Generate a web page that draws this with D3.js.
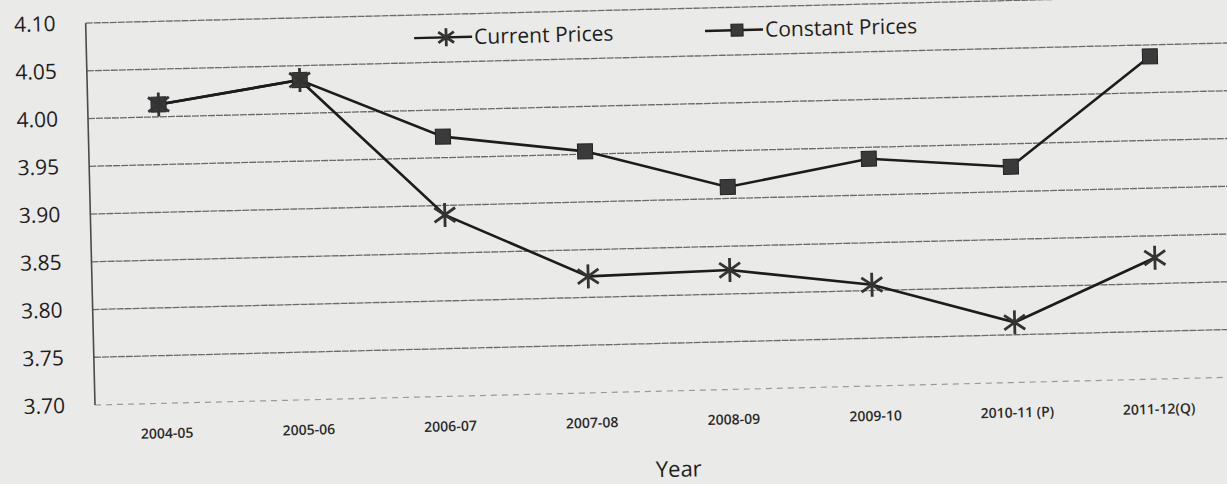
<!DOCTYPE html>
<html>
<head>
<meta charset="utf-8">
<script src="https://cdn.jsdelivr.net/npm/d3@7"></script>
<style>
  body { margin: 0; background: #eaeae8; }
  svg { display: block; }
</style>
</head>
<body>
<svg id="chart" width="1227" height="484"></svg>
<script>
const years = ["2004-05", "2005-06", "2006-07", "2007-08", "2008-09", "2009-10", "2010-11 (P)", "2011-12(Q)"];
const currentPrices = [4.013, 4.035, 3.890, 3.822, 3.825, 3.806, 3.763, 3.827];
const constantPrices = [4.013, 4.035, 3.972, 3.953, 3.912, 3.938, 3.926, 4.038];
const yTicks = [3.70, 3.75, 3.80, 3.85, 3.90, 3.95, 4.00, 4.05, 4.10];

const svg = d3.select("#chart");
// the scanned page sits slightly askew
const g = svg.append("g").attr("transform", "rotate(-1.4, 95, 405)");

const x = d3.scalePoint().domain(years).range([95, 1229]).padding(0.5);
const y = d3.scaleLinear().domain([3.70, 4.10]).range([405, 23]);

// gridlines
g.append("g")
  .selectAll("line")
  .data(yTicks.slice(1))
  .enter()
  .append("line")
  .attr("x1", 95)
  .attr("x2", 1240)
  .attr("y1", d => y(d))
  .attr("y2", d => y(d))
  .style("stroke", "#6a6a6a")
  .style("stroke-width", 1.3)
  .style("stroke-dasharray", "7 1");

// bottom line (faint, dashed)
g.append("line")
  .attr("x1", 95).attr("x2", 1240)
  .attr("y1", y(3.70)).attr("y2", y(3.70))
  .style("stroke", "#9a9a9a")
  .style("stroke-width", 1.2)
  .style("stroke-dasharray", "6 5");

// left axis
g.append("line")
  .attr("x1", 95).attr("x2", 95)
  .attr("y1", y(4.10)).attr("y2", y(3.70))
  .style("stroke", "#4a4a4a")
  .style("stroke-width", 1.6);

const yAxis = g.append("g")
  .attr("transform", "translate(95,0)")
  .call(d3.axisLeft(y).tickValues(yTicks).tickFormat(d3.format(".2f")).tickSize(0).tickPadding(30));
yAxis.select(".domain").remove();
yAxis.selectAll("text")
  .style("font-family", "'Open Sans', sans-serif")
  .style("font-size", "21px")
  .style("fill", "#1e1e1e");

const xAxis = g.append("g")
  .attr("transform", "translate(0,430)")
  .call(d3.axisBottom(x).tickSize(0).tickPadding(0));
xAxis.select(".domain").remove();
xAxis.selectAll("text")
  .style("font-family", "'Open Sans', sans-serif")
  .style("font-size", "14px")
  .style("font-weight", "600")
  .style("fill", "#2a2a2a");

g.append("text")
  .attr("x", 677)
  .attr("y", 491)
  .attr("text-anchor", "middle")
  .style("font-family", "'Open Sans', sans-serif")
  .style("font-size", "22px")
  .style("fill", "#1e1e1e")
  .text("Year");

// lines
const line = d3.line().x((d, i) => x(years[i])).y(d => y(d));
[constantPrices, currentPrices].forEach(series => {
  g.append("path")
    .datum(series)
    .attr("d", line)
    .style("fill", "none")
    .style("stroke", "#1c1c1c")
    .style("stroke-width", 2.6);
});

const starPath = r => `M0,${-r}V${r}M${-r * 0.87},${-r * 0.6}L${r * 0.87},${r * 0.6}M${-r * 0.87},${r * 0.6}L${r * 0.87},${-r * 0.6}`;

function drawSquare(sel, s) {
  sel.append("rect")
    .attr("x", -s / 2).attr("y", -s / 2)
    .attr("width", s).attr("height", s)
    .style("fill", "#3a3a3a")
    .style("stroke", "#222")
    .style("stroke-width", 1);
}
function drawStar(sel, r) {
  sel.append("path")
    .attr("d", starPath(r))
    .style("fill", "none")
    .style("stroke", "#333")
    .style("stroke-width", 2.8);
}

g.append("g")
  .selectAll("g")
  .data(constantPrices)
  .enter()
  .append("g")
  .attr("transform", (d, i) => `translate(${x(years[i])},${y(d)})`)
  .each(function() { drawSquare(d3.select(this), 15); });

g.append("g")
  .selectAll("g")
  .data(currentPrices)
  .enter()
  .append("g")
  .attr("transform", (d, i) => `translate(${x(years[i])},${y(d)})`)
  .each(function() { drawStar(d3.select(this), 12); });

// legend
const legend = [
  { name: "Current Prices", x0: 423, draw: s => drawStar(s, 9) },
  { name: "Constant Prices", x0: 714, draw: s => drawSquare(s, 12) }
];
legend.forEach(l => {
  const lg = g.append("g").attr("transform", `translate(${l.x0},46)`);
  lg.append("line").attr("x1", 0).attr("x2", 58).attr("y1", 0).attr("y2", 0)
    .style("stroke", "#1c1c1c").style("stroke-width", 2.4);
  l.draw(lg.append("g").attr("transform", "translate(32,0)"));
  lg.append("text")
    .attr("x", 60).attr("y", 0).attr("dy", "0.35em")
    .style("font-family", "'Open Sans', sans-serif")
    .style("font-size", "21px")
    .style("fill", "#1e1e1e")
    .text(l.name);
});
</script>
</body>
</html>
